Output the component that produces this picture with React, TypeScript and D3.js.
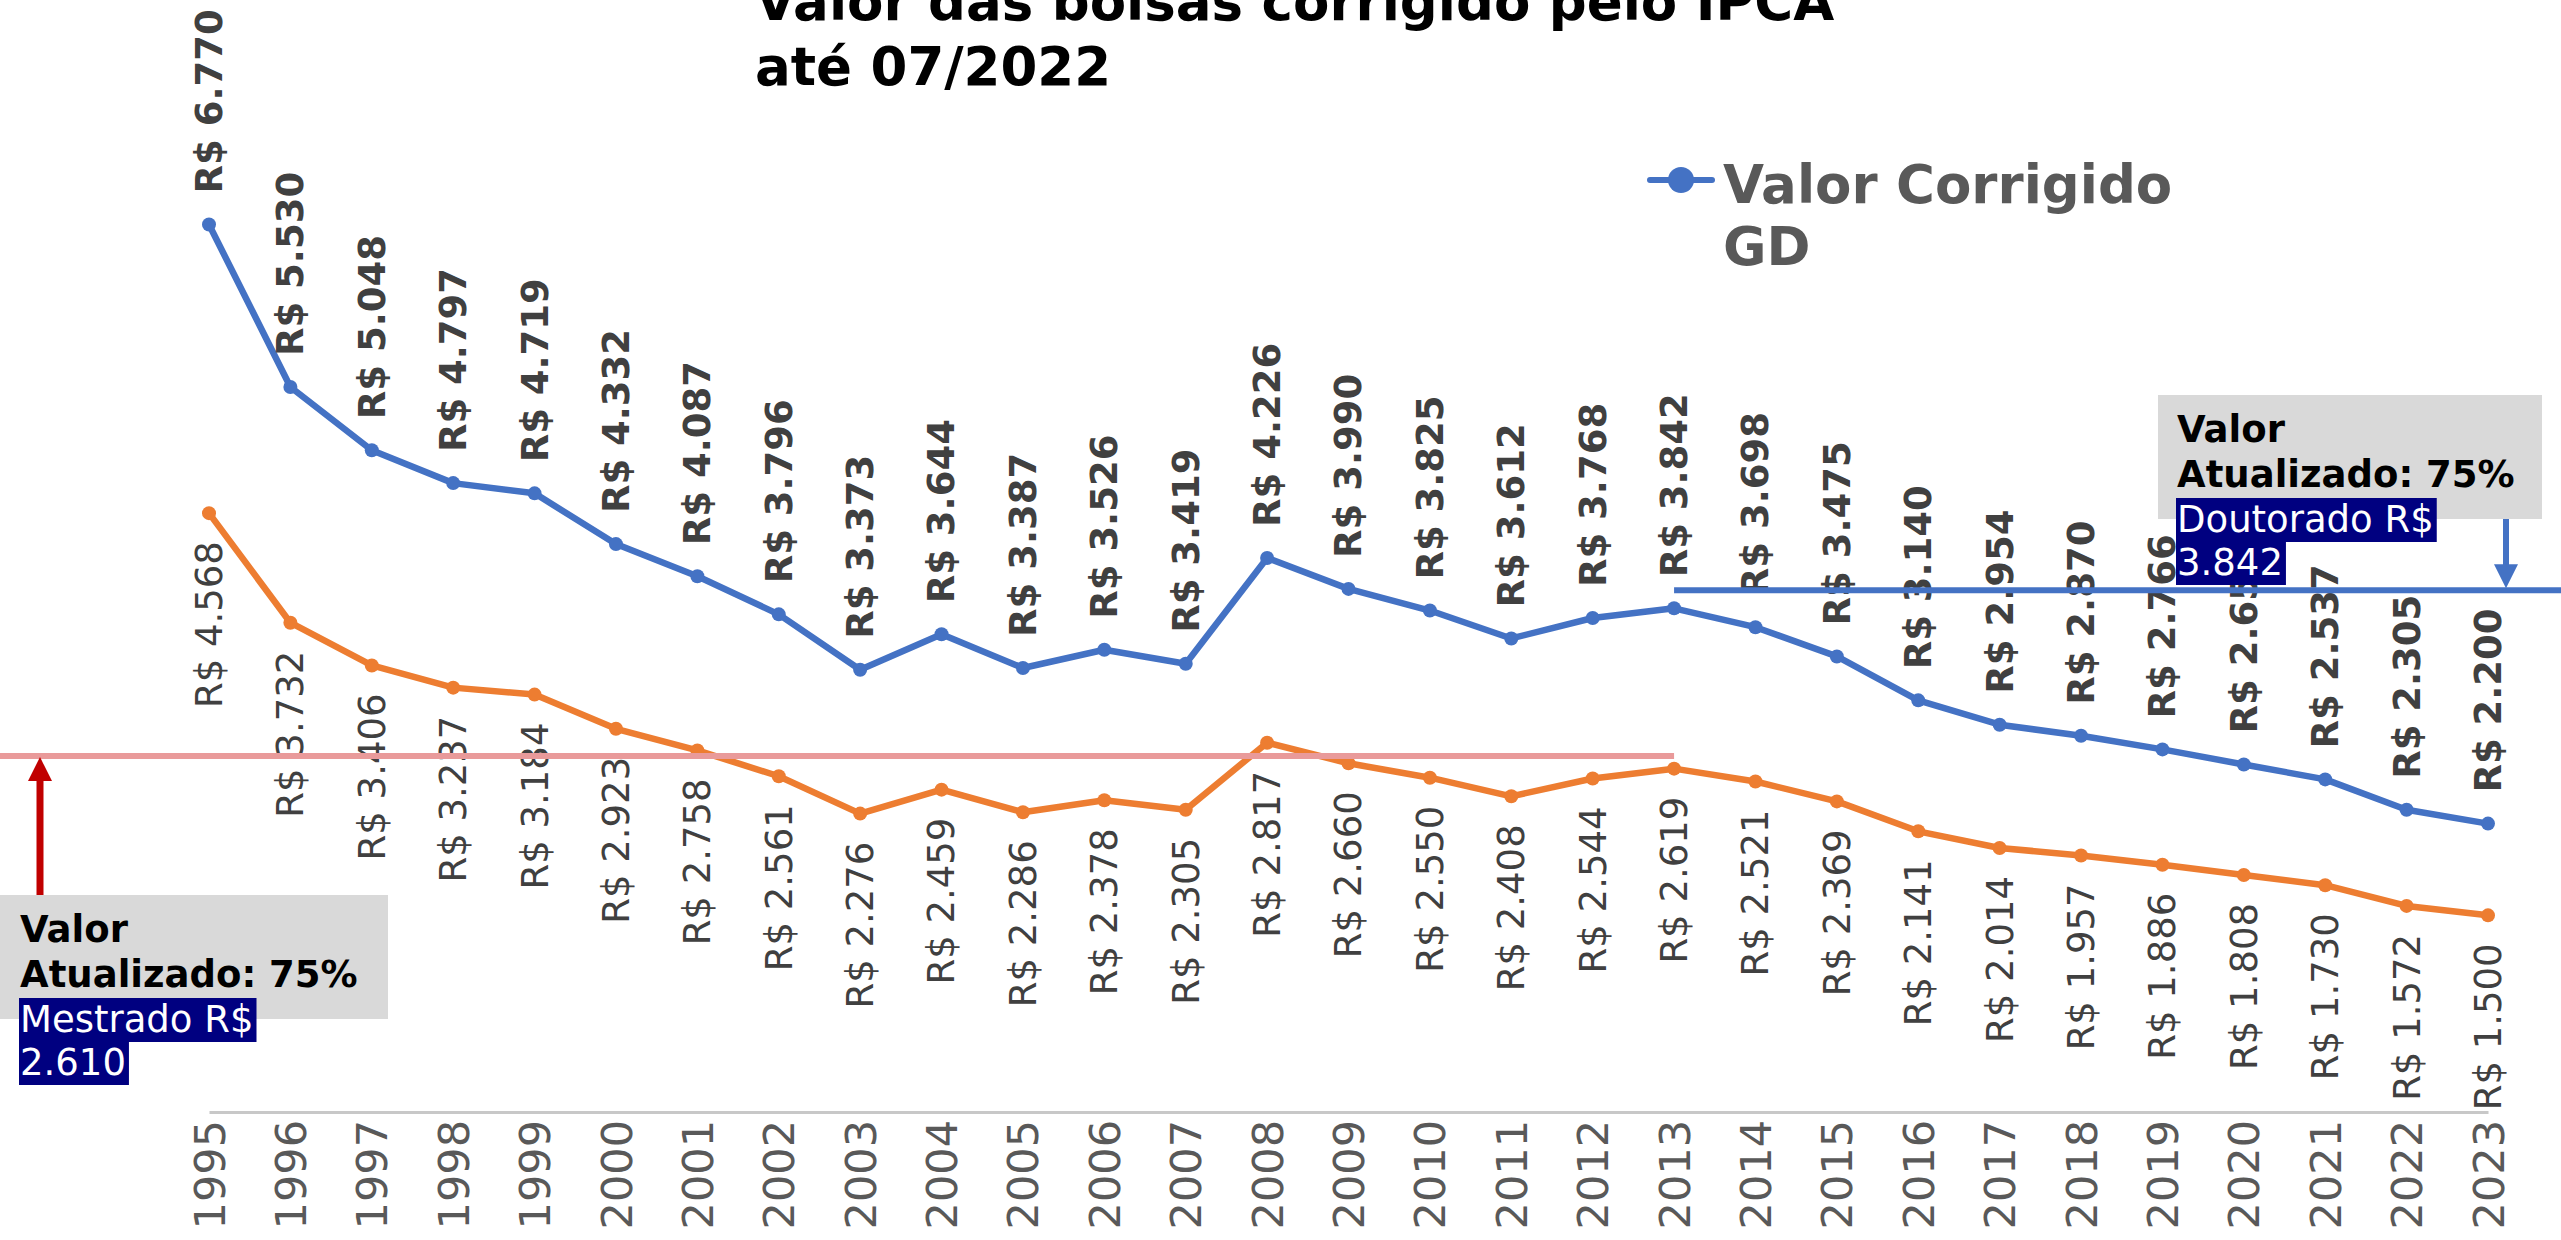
import React, { useEffect, useRef } from 'react';
import * as d3 from 'd3';

// anos e valores das bolsas (R$) corrigidos pelo IPCA
const anos = ['1995', '1996', '1997', '1998', '1999', '2000', '2001', '2002', '2003', '2004',
  '2005', '2006', '2007', '2008', '2009', '2010', '2011', '2012', '2013', '2014',
  '2015', '2016', '2017', '2018', '2019', '2020', '2021', '2022', '2023'];

const valorGD = [6770, 5530, 5048, 4797, 4719, 4332, 4087, 3796, 3373, 3644,
  3387, 3526, 3419, 4226, 3990, 3825, 3612, 3768, 3842, 3698,
  3475, 3140, 2954, 2870, 2766, 2651, 2537, 2305, 2200];

const valorME = [4568, 3732, 3406, 3237, 3184, 2923, 2758, 2561, 2276, 2459,
  2286, 2378, 2305, 2817, 2660, 2550, 2408, 2544, 2619, 2521,
  2369, 2141, 2014, 1957, 1886, 1808, 1730, 1572, 1500];

// linhas de referencia desenhadas a mao no grafico original
const linhaMestrado = 2715;
const linhaDoutorado = 3980;

const tituloLinhas = ['Valor das bolsas corrigido pelo IPCA', 'até 07/2022'];
const legendaLinhas = ['Valor Corrigido', 'GD'];
const notaMestrado = ['Valor', 'Atualizado: 75%', 'Mestrado R$', '2.610'];
const notaDoutorado = ['Valor', 'Atualizado: 75%', 'Doutorado R$', '3.842'];

const AZUL = '#4472c4';
const LARANJA = '#ed7d31';

const App = () => {
  const chartRef = useRef<SVGSVGElement>(null);

  useEffect(() => {
    const svg = d3.select(chartRef.current);
    svg.selectAll('*').remove();

    const x = d3.scalePoint<string>().domain(anos).range([209, 2488]);
    const y = d3.scaleLinear().domain([0, 8000]).range([1112, 63.2]);

    const br = d3.formatLocale({ decimal: ',', thousands: '.', grouping: [3], currency: ['R$ ', ''] });
    const fmt = br.format('$,.0f');

    // eixo x
    const eixo = svg.append('g')
      .attr('transform', `translate(0,${y(0)})`)
      .call(d3.axisBottom(x).tickSize(0).tickSizeOuter(0));
    eixo.select('.domain').attr('stroke', '#c8c8c8').attr('stroke-width', 3);
    eixo.selectAll('text')
      .attr('transform', 'rotate(-90)')
      .attr('x', -8)
      .attr('y', 0)
      .attr('dy', '0.35em')
      .attr('text-anchor', 'end')
      .attr('fill', '#595959')
      .style('font-size', '43px')
      .style('font-family', 'DejaVu Sans');

    const line = d3.line<number>()
      .x((d, i) => x(anos[i]) as number)
      .y(d => y(d));

    const series = [
      { valores: valorME, cor: LARANJA, bold: false, acima: false },
      { valores: valorGD, cor: AZUL, bold: true, acima: true },
    ];

    series.forEach(s => {
      svg.append('path')
        .datum(s.valores)
        .attr('d', line)
        .attr('fill', 'none')
        .attr('stroke', s.cor)
        .attr('stroke-width', 6.5)
        .attr('stroke-linejoin', 'round');

      svg.append('g').selectAll('circle')
        .data(s.valores)
        .enter().append('circle')
        .attr('cx', (d, i) => x(anos[i]) as number)
        .attr('cy', d => y(d))
        .attr('r', 7)
        .attr('fill', s.cor);
    });

    series.forEach(s => {
      svg.append('g').selectAll('text')
        .data(s.valores)
        .enter().append('text')
        .attr('transform', (d, i) => `translate(${x(anos[i])},${y(d) + (s.acima ? -31 : 28)}) rotate(-90)`)
        .attr('dy', '0.35em')
        .attr('text-anchor', s.acima ? 'start' : 'end')
        .attr('fill', '#404040')
        .style('font-size', '37px')
        .style('font-weight', s.bold ? 'bold' : 'normal')
        .text(d => fmt(d));
    });

    // linhas de referencia
    svg.append('line')
      .attr('x1', 0).attr('x2', x('2013') as number)
      .attr('y1', y(linhaMestrado)).attr('y2', y(linhaMestrado))
      .attr('stroke', '#e99a9a').attr('stroke-width', 6);
    svg.append('line')
      .attr('x1', x('2013') as number).attr('x2', 2561)
      .attr('y1', y(linhaDoutorado)).attr('y2', y(linhaDoutorado))
      .attr('stroke', AZUL).attr('stroke-width', 6);

    // setas
    const seta = (cx: number, y0: number, y1: number, cor: string, w: number) => {
      const dir = y1 > y0 ? 1 : -1;
      svg.append('line')
        .attr('x1', cx).attr('x2', cx)
        .attr('y1', y0).attr('y2', y1 - dir * 22)
        .attr('stroke', cor).attr('stroke-width', w);
      svg.append('path')
        .attr('d', `M${cx - 12},${y1 - dir * 24}L${cx + 12},${y1 - dir * 24}L${cx},${y1}Z`)
        .attr('fill', cor);
    };
    seta(40, 895, y(linhaMestrado) + 1, '#c00000', 7);
    seta(2506, 519, y(linhaDoutorado) - 2, AZUL, 6);

    // caixas de anotacao
    const nota = (linhas: string[], bx: number, by: number, bw: number, tx: number) => {
      svg.append('rect')
        .attr('x', bx).attr('y', by).attr('width', bw).attr('height', 124)
        .attr('fill', '#d9d9d9');
      const bases = [by + 47, by + 92, by + 137, by + 180];
      linhas.forEach((t, i) => {
        const txt = svg.append('text')
          .attr('x', tx).attr('y', bases[i])
          .style('font-size', '37px')
          .style('font-weight', i < 2 ? 'bold' : 'normal')
          .attr('fill', i < 2 ? '#000000' : '#ffffff')
          .text(t);
        if (i >= 2) {
          const bb = (txt.node() as SVGTextElement).getBBox();
          svg.insert('rect', () => txt.node())
            .attr('x', tx - 1).attr('y', bases[i] - 34)
            .attr('width', bb.width + 4).attr('height', 44)
            .attr('fill', '#000080');
        }
      });
    };
    nota(notaMestrado, 0, 895, 388, 20);
    nota(notaDoutorado, 2158, 395, 384, 2177);

    // legenda
    svg.append('line')
      .attr('x1', 1650).attr('x2', 1712).attr('y1', 180).attr('y2', 180)
      .attr('stroke', AZUL).attr('stroke-width', 6).attr('stroke-linecap', 'round');
    svg.append('circle').attr('cx', 1681).attr('cy', 180).attr('r', 13).attr('fill', AZUL);
    legendaLinhas.forEach((t, i) => {
      svg.append('text')
        .attr('x', 1723).attr('y', 203 + i * 62)
        .attr('fill', '#595959')
        .style('font-size', '53px')
        .style('font-weight', 'bold')
        .text(t);
    });

    // titulo
    tituloLinhas.forEach((t, i) => {
      svg.append('text')
        .attr('x', 755).attr('y', 20 + i * 65)
        .attr('fill', '#000000')
        .style('font-size', '53px')
        .style('font-weight', 'bold')
        .text(t);
    });
  }, []);

  return (
    <svg
      ref={chartRef}
      width={2561}
      height={1240}
      style={{ position: 'absolute', left: 0, top: 0, fontFamily: 'DejaVu Sans', background: '#ffffff' }}
    />
  );
};

export default App;
